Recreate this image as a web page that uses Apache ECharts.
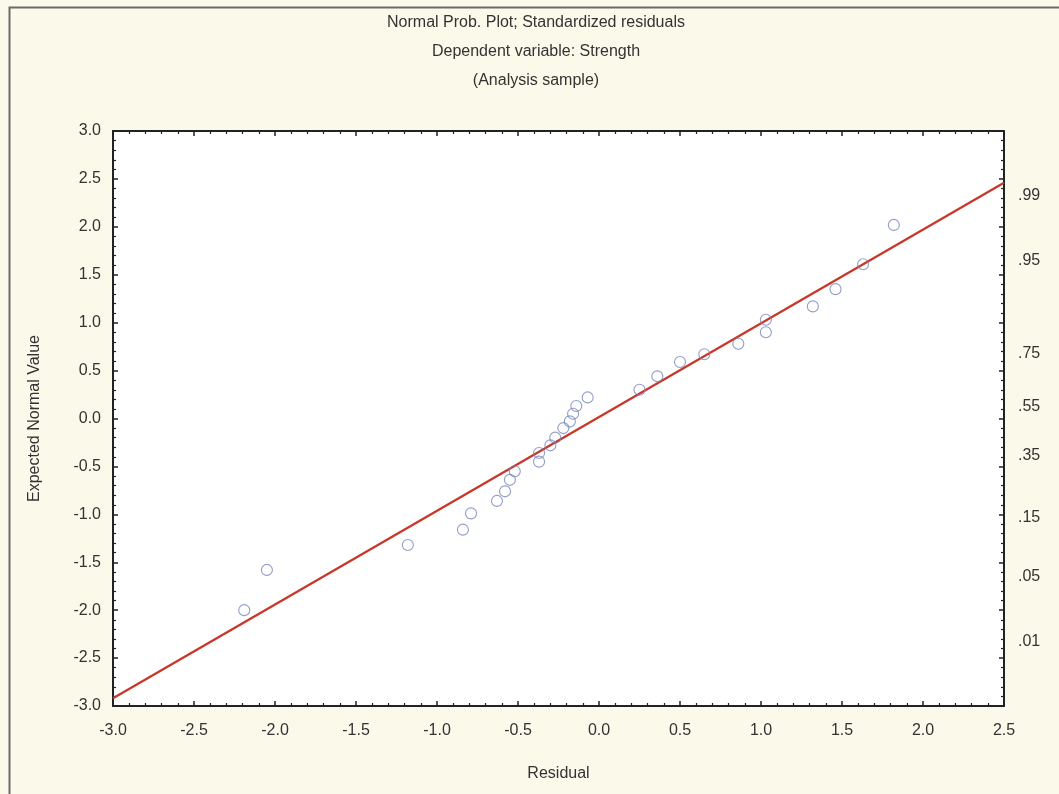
<!DOCTYPE html>
<html>
<head>
<meta charset="utf-8">
<title>Normal Prob. Plot</title>
<script src="https://cdn.jsdelivr.net/npm/echarts@6/dist/echarts.min.js"></script>
<style>
	html, body { margin: 0; padding: 0; background: #fbf9ea; }
	#tubiao1 { width: 1059px; height: 794px; }
</style>
</head>
<body>
<div id="tubiao1"></div>
<script>
// residuals (x) and expected normal values (y)
var residuals = [-2.19, -2.05, -1.18, -0.84, -0.79, -0.63, -0.58, -0.55, -0.52, -0.37, -0.37, -0.30, -0.27, -0.22, -0.18, -0.16, -0.14, -0.07, 0.25, 0.36, 0.50, 0.65, 0.86, 1.03, 1.03, 1.32, 1.46, 1.63, 1.82];
var expected = [-2.00, -1.58, -1.32, -1.16, -0.99, -0.86, -0.76, -0.64, -0.55, -0.45, -0.36, -0.28, -0.20, -0.10, -0.03, 0.05, 0.13, 0.22, 0.30, 0.44, 0.59, 0.67, 0.78, 0.90, 1.03, 1.17, 1.35, 1.61, 2.02];

// fitted reference line, end points
var lineX = [-3.0, 2.5];
var lineY = [-2.92, 2.46];

// right axis probabilities
var probTicks = ['.01', '.05', '.15', '.35', '.55', '.75', '.95', '.99'];

// inverse normal cdf (Acklam), only for placing the probability labels
function probit(p) {
	var a = [-39.69683028665376, 220.9460984245205, -275.9285104469687, 138.3577518672690, -30.66479806614716, 2.506628277459239];
	var b = [-54.47609879822406, 161.5858368580409, -155.6989798598866, 66.80131188771972, -13.28068155288572];
	var c = [-0.007784894002430293, -0.3223964580411365, -2.400758277161838, -2.549732539343734, 4.374664141464968, 2.938163982698783];
	var d = [0.007784695709041462, 0.3224671290700398, 2.445134137142996, 3.754408661907416];
	var q, r;
	if (p < 0.02425) {
		q = Math.sqrt(-2 * Math.log(p));
		return (((((c[0] * q + c[1]) * q + c[2]) * q + c[3]) * q + c[4]) * q + c[5]) / ((((d[0] * q + d[1]) * q + d[2]) * q + d[3]) * q + 1);
	}
	if (p > 1 - 0.02425) {
		q = Math.sqrt(-2 * Math.log(1 - p));
		return -(((((c[0] * q + c[1]) * q + c[2]) * q + c[3]) * q + c[4]) * q + c[5]) / ((((d[0] * q + d[1]) * q + d[2]) * q + d[3]) * q + 1);
	}
	q = p - 0.5;
	r = q * q;
	return (((((a[0] * r + a[1]) * r + a[2]) * r + a[3]) * r + a[4]) * r + a[5]) * q / (((((b[0] * r + b[1]) * r + b[2]) * r + b[3]) * r + b[4]) * r + 1);
}

var probValues = [];
var probLabelMap = {};
for (var i = 0; i < probTicks.length; i++) {
	var z = probit(parseFloat(probTicks[i]));
	probValues.push(z);
	probLabelMap[z.toFixed(4)] = probTicks[i];
}

var points = [];
for (var k = 0; k < residuals.length; k++) {
	points.push([residuals[k], expected[k]]);
}
var linePoints = [[lineX[0], lineY[0]], [lineX[1], lineY[1]]];

var FONT = 'Liberation Sans, Arial, sans-serif';
var TXT = '#333333';
var AXC = '#222222';

function frameAxis(extra) {
	var o = {
		type: 'value',
		min: -3,
		max: 3,
		interval: 0.5,
		axisLine: { show: true, onZero: false, lineStyle: { color: AXC, width: 2 } },
		axisTick: { show: true, inside: true, length: 5, lineStyle: { color: AXC, width: 1.5 } },
		minorTick: { show: true, splitNumber: 5, length: 3, lineStyle: { color: AXC, width: 1.2 } },
		splitLine: { show: false },
		axisLabel: { show: false }
	};
	for (var key in extra) { o[key] = extra[key]; }
	return o;
}

var myChart = echarts.init(document.getElementById('tubiao1'));

var option = {
	backgroundColor: '#fbf9ea',
	animation: false,
	title: [
		{ text: 'Normal Prob. Plot; Standardized residuals', left: 531, top: 10, textAlign: 'center', textStyle: { fontFamily: FONT, fontSize: 16, fontWeight: 'normal', color: TXT } },
		{ text: 'Dependent variable: Strength', left: 531, top: 39, textAlign: 'center', textStyle: { fontFamily: FONT, fontSize: 16, fontWeight: 'normal', color: TXT } },
		{ text: '(Analysis sample)', left: 531, top: 68, textAlign: 'center', textStyle: { fontFamily: FONT, fontSize: 16, fontWeight: 'normal', color: TXT } }
	],
	graphic: [
		{ type: 'rect', left: 7, top: 5, shape: { width: 1100, height: 850 }, style: { fill: 'none', stroke: '#6a6a6a', lineWidth: 2 }, z: -1 }
	],
	grid: {
		left: 113,
		right: 55,
		top: 131,
		bottom: 88,
		show: true,
		backgroundColor: '#ffffff',
		borderColor: AXC,
		borderWidth: 0
	},
	xAxis: [
		frameAxis({
			min: -3,
			max: 2.5,
			position: 'bottom',
			name: 'Residual',
			nameLocation: 'middle',
			nameGap: 60,
			nameTextStyle: { fontFamily: FONT, fontSize: 16, color: TXT },
			axisLabel: { show: true, margin: 17, fontFamily: FONT, fontSize: 16, color: TXT, formatter: function (v) { return v.toFixed(1); } }
		}),
		frameAxis({ min: -3, max: 2.5, position: 'top' })
	],
	yAxis: [
		frameAxis({
			position: 'left',
			name: 'Expected Normal Value',
			nameLocation: 'middle',
			nameGap: 70,
			nameTextStyle: { fontFamily: FONT, fontSize: 16, color: TXT },
			axisLabel: { show: true, margin: 12, fontFamily: FONT, fontSize: 16, color: TXT, formatter: function (v) { return v.toFixed(1); } }
		}),
		frameAxis({
			position: 'right',
			axisLabel: {
				show: true,
				margin: 14,
				fontFamily: FONT,
				fontSize: 16,
				color: TXT,
				customValues: probValues,
				formatter: function (v) { return probLabelMap[v.toFixed(4)] || ''; }
			}
		})
	],
	series: [
		{
			name: 'fit',
			type: 'line',
			xAxisIndex: 0,
			yAxisIndex: 0,
			data: linePoints,
			symbol: 'none',
			lineStyle: { color: '#c8382a', width: 2.3 },
			z: 2
		},
		{
			name: 'residuals',
			type: 'scatter',
			xAxisIndex: 0,
			yAxisIndex: 0,
			data: points,
			symbol: 'circle',
			symbolSize: 11,
			itemStyle: { color: 'rgba(255,255,255,0)', borderColor: '#7585b8', borderWidth: 1.1 },
			z: 3
		}
	]
};
myChart.setOption(option);
</script>
</body>
</html>
